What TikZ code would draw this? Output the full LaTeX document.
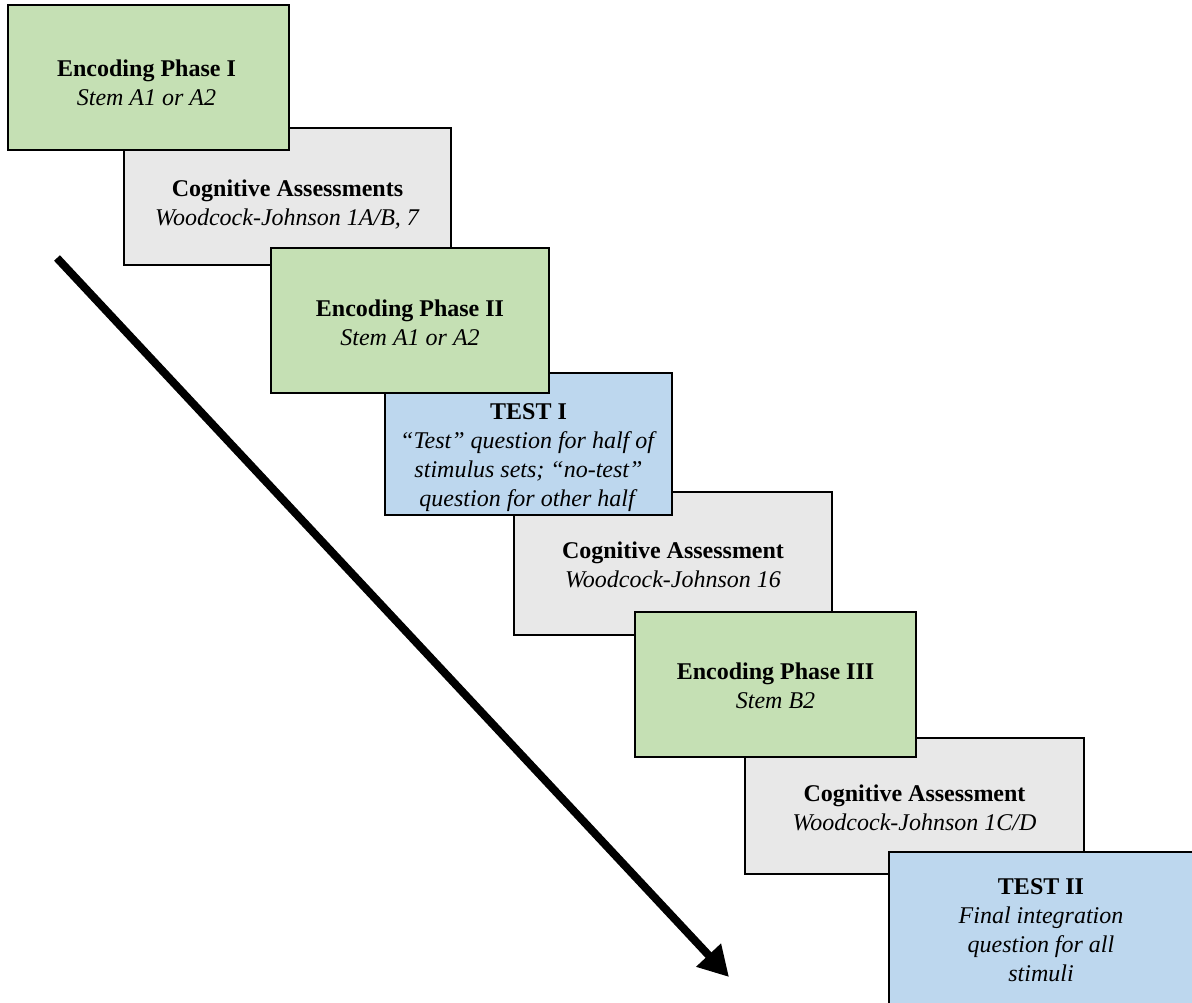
\documentclass[tikz,border=0pt]{standalone}
\usepackage{fontspec}
\setmainfont{Liberation Serif}
\usetikzlibrary{arrows.meta}

\definecolor{encgreen}{HTML}{C5E0B4}
\definecolor{testblue}{HTML}{BDD7EE}
\definecolor{cogray}{HTML}{E8E8E8}

\tikzset{
  phase/.style={draw=black, line width=2.5pt},
  lbl/.style={anchor=north, inner sep=0pt, align=center,
    font=\fontsize{24}{29}\selectfont},
}

\begin{document}
\begin{tikzpicture}[x=1pt, y=-1pt]
				\useasboundingbox (0,0) rectangle (1192,1003);
				\clip (0,0) rectangle (1192,1003);
				
				% grey boxes lie underneath
				\draw[phase, fill=cogray] (124,128) rectangle (451,265);
				\draw[phase, fill=cogray] (514,492) rectangle (832,635);
				\draw[phase, fill=cogray] (745,738) rectangle (1084,874);
				
				\draw[phase, fill=testblue] (889,852) rectangle (1194,1020);
				\draw[phase, fill=testblue] (385,373) rectangle (672,515);
				
				\draw[phase, fill=encgreen] (8,5) rectangle (289,150);
				\draw[phase, fill=encgreen] (271,248) rectangle (549,393);
				\draw[phase, fill=encgreen] (635,612) rectangle (916,757);
				
				\node[lbl] (enc1) at (146.5,60) {\textbf{Encoding Phase I}\\\textit{Stem A1 or A2}};
				\node[lbl] (cog1) at (287.5,180) {\textbf{Cognitive Assessments}\\\textit{Woodcock-Johnson 1A/B, 7}};
				\node[lbl] (enc2) at (410,300) {\textbf{Encoding Phase II}\\\textit{Stem A1 or A2}};
				\node[lbl] (test1) at (528.5,403) {\textbf{TEST I}\\\textit{“Test” question for half of}\\\textit{stimulus sets; “no-test”}\\\textit{question for other half}};
				\node[lbl] (cog2) at (673,542) {\textbf{Cognitive Assessment}\\\textit{Woodcock-Johnson 16}};
				\node[lbl] (enc3) at (775.5,663) {\textbf{Encoding Phase III}\\\textit{Stem B2}};
				\node[lbl] (cog3) at (914.5,785) {\textbf{Cognitive Assessment}\\\textit{Woodcock-Johnson 1C/D}};
				\node[lbl] (test2) at (1041,878) {\textbf{TEST II}\\\textit{Final integration}\\\textit{question for all}\\\textit{stimuli}};
				
				% time arrow
				\coordinate (start) at (57,258);
				\coordinate (finish) at (729,977);
				\draw[line width=8pt, -{Triangle[length=30pt,width=32pt]}] (start) -- (finish);
			\end{tikzpicture}
\end{document}
